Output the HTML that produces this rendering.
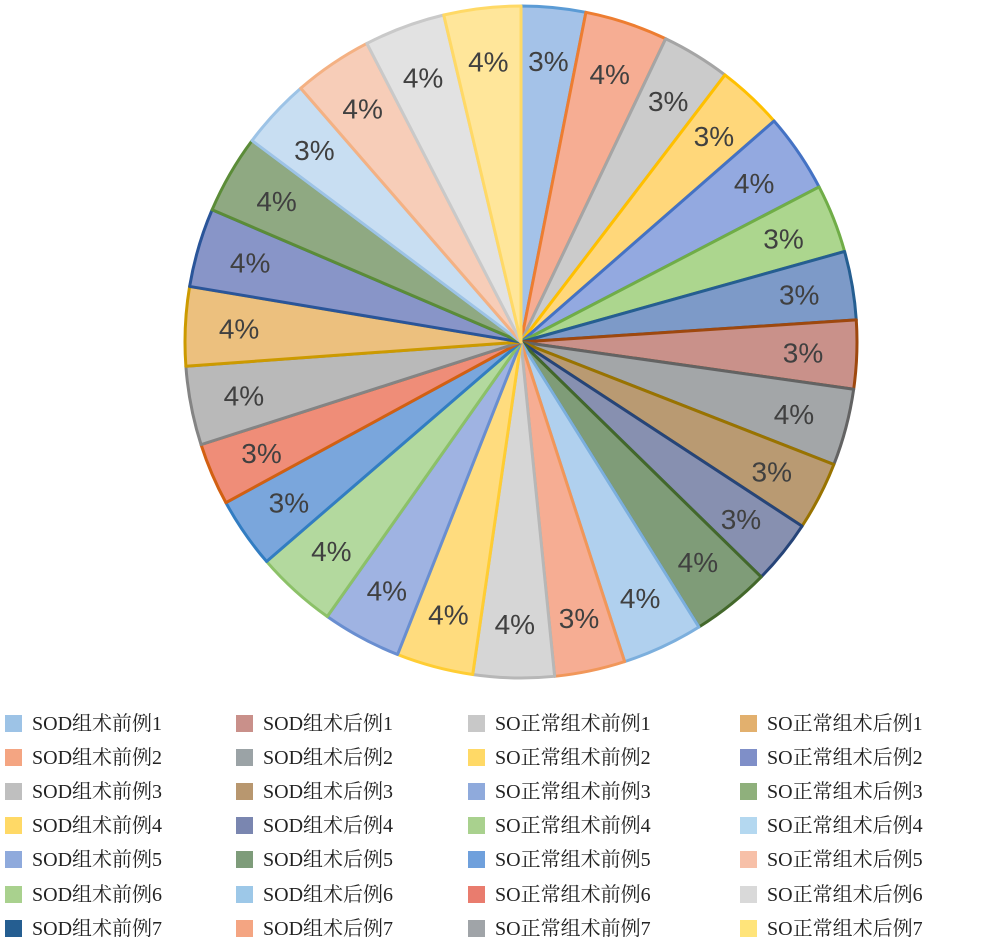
<!DOCTYPE html>
<html><head><meta charset="utf-8"><style>
body{margin:0;background:#fff;width:982px;height:941px;overflow:hidden;position:relative;font-family:"Liberation Serif","Noto Serif CJK SC",serif;}
.lg{position:absolute;font-size:20px;color:#222;white-space:nowrap;line-height:22px;}
.sw{position:absolute;width:17px;height:17px;}
</style></head><body>
<svg id="pie" width="982" height="700" style="position:absolute;left:0;top:0"></svg>
<div id="legend"></div>
<script>
const categories=["SOD组术前例1","SOD组术前例2","SOD组术前例3","SOD组术前例4","SOD组术前例5","SOD组术前例6","SOD组术前例7",
"SOD组术后例1","SOD组术后例2","SOD组术后例3","SOD组术后例4","SOD组术后例5","SOD组术后例6","SOD组术后例7",
"SO正常组术前例1","SO正常组术前例2","SO正常组术前例3","SO正常组术前例4","SO正常组术前例5","SO正常组术前例6","SO正常组术前例7",
"SO正常组术后例1","SO正常组术后例2","SO正常组术后例3","SO正常组术后例4","SO正常组术后例5","SO正常组术后例6","SO正常组术后例7"];
const values=[3.1,4.0,3.3,3.2,3.8,3.3,3.3,3.3,3.7,3.3,3.1,3.8,3.9,3.4,3.9,3.7,3.8,3.9,3.4,3.0,3.8,3.8,3.8,3.8,3.4,3.8,3.9,3.7];
const fills=["#a4c2e8","#f6ad93","#cbcbcb","#ffd77a","#93a9e0","#acd68e","#7d9ac8","#c9918a","#a3a6a8","#b99a72","#8790b0","#7f9c78","#b0d0ee","#f6ad93","#d6d6d6","#ffdc7e","#9fb3e2","#b3d99e","#7aa6dc","#ef8d78","#b9b9b9","#ecc07e","#8895c8","#8fa982","#c8def2","#f7cdb8","#e2e2e2","#ffe69a"];
const strokes=["#5b9bd5","#ed7d31","#a5a5a5","#ffc000","#4472c4","#70ad47","#255e91","#9e480e","#636363","#997300","#264478","#43682b","#7cafdd","#f1975a","#b7b7b7","#ffcd33","#698ed0","#8cc168","#327dc2","#d26012","#848484","#cc9a00","#2a5599","#5b8c38","#9dc3e6","#f4b183","#c9c9c9","#ffd966"];
const legendColors=["#9dc3e6","#f4a582","#bfbfbf","#ffd966","#8faadc","#a9d18e","#255e91","#c9908a","#9ba3a6","#b8976f","#7a86b0","#7e9c7a","#9dc8e8","#f4a582","#c8c8c8","#ffd966","#8faadc","#a9d18e","#6fa0dc","#e97c6e","#a0a4a8","#e2b06e","#7f8fc8","#8fb07c","#b4d8f0","#f7c0a8","#d9d9d9","#ffe47a"];
const NS="http://www.w3.org/2000/svg";
const svg=document.getElementById('pie');
const cx=521,cy=342,R=336;
const total=values.reduce((a,b)=>a+b,0);
function pt(a,r){return [cx+r*Math.sin(a),cy-r*Math.cos(a)];}
let acc=0;
values.forEach((v,i)=>{
  const a0=acc/total*2*Math.PI; acc+=v; const a1=acc/total*2*Math.PI;
  const p0=pt(a0,R),p1=pt(a1,R);
  const path=document.createElementNS(NS,'path');
  path.setAttribute('d',`M${cx},${cy}L${p0[0]},${p0[1]}A${R},${R} 0 0 1 ${p1[0]},${p1[1]}Z`);
  path.setAttribute('fill',fills[i]);path.setAttribute('stroke',strokes[i]);path.setAttribute('stroke-width','3');path.setAttribute('stroke-linejoin','round');
  
  
  svg.appendChild(path);
});
acc=0;
values.forEach((v,i)=>{
  const am=(acc+v/2)/total*2*Math.PI; acc+=v;
  const p=pt(am,R*0.84);
  const t=document.createElementNS(NS,'text');
  t.setAttribute('x',p[0]);t.setAttribute('y',p[1]+10);t.setAttribute('text-anchor','middle');
  t.setAttribute('font-family','"Liberation Sans",sans-serif');t.setAttribute('font-size','28');t.setAttribute('fill','#404040');
  t.textContent=Math.round(v/total*100)+'%';
  
  
  svg.appendChild(t);
});
const lg=document.getElementById('legend');
const colX=[5,236,468,740],rowY=[713,747,781,815,849,884,918];
categories.forEach((c,i)=>{
  const col=Math.floor(i/7),row=i%7;
  const e=document.createElement('div');e.className='lg';
  
  
  e.style.left=colX[col]+'px';e.style.top=rowY[row]+'px';
  const s=document.createElement('span');s.className='sw';s.style.left='0px';s.style.top='2px';s.style.background=legendColors[i];
  
  
  const t=document.createElement('span');t.style.position='absolute';t.style.left='27px';t.style.top='0px';t.textContent=c;
  
  
  e.appendChild(s);e.appendChild(t);lg.appendChild(e);
});
</script>
</body></html>
